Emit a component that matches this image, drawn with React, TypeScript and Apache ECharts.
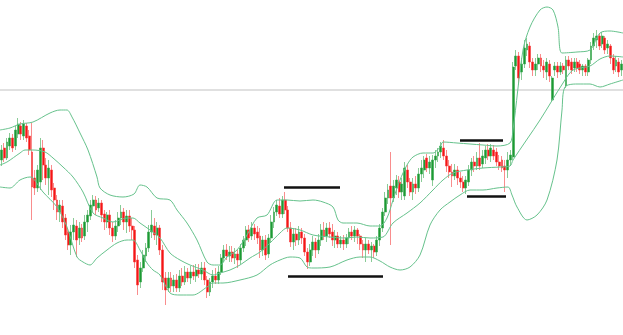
import React, { useEffect, useRef } from "react";
import * as echarts from "echarts";

// Values in screen-pixel rows (0 = top); converted to heights below.
const H = 335;
const W = 623;

// [open, close, top(high), bottom(low)] in pixel rows
const CANDLES: [number, number, number, number][] = [
  [160,150,145,166],[148,158,143,162],[158,142,138,160],[146,138,133,150],[138,148,134,152],
  [146,130,126,150],[134,124,118,138],[126,134,122,140],[136,124,120,140],[126,138,123,142],
  [136,150,130,155],[152,187,123,220],[178,188,170,195],[188,170,165,192],[182,148,138,190],
  [148,165,140,180],[165,178,158,185],[178,168,160,195],[170,190,165,197],[188,200,183,210],
  [200,212,195,220],[212,205,200,222],[206,222,200,228],[218,235,214,240],[232,245,228,250],
  [245,232,225,255],[232,225,218,240],[226,240,220,257],[238,228,222,245],[228,238,224,242],
  [236,222,215,240],[222,215,210,232],[216,205,200,220],[206,200,195,212],[200,210,196,215],
  [208,203,198,212],[203,215,200,222],[214,222,210,230],[222,215,212,228],[215,228,210,235],
  [228,236,222,242],[236,226,220,240],[226,218,212,232],[218,212,205,225],[212,222,208,230],
  [222,216,210,233],[216,226,210,232],[226,230,218,240],[230,262,226,268],[260,285,255,295],
  [282,268,262,288],[268,255,250,272],[256,248,243,262],[248,232,225,252],[232,225,210,238],
  [226,235,218,240],[235,228,222,245],[228,250,225,255],[250,282,245,290],[278,290,272,305],
  [288,278,272,292],[278,286,272,292],[286,280,275,292],[280,288,274,292],[288,276,270,292],
  [276,282,268,286],[282,272,266,285],[272,278,268,282],[278,272,266,284],[272,276,265,280],
  [276,270,264,282],[270,274,264,278],[274,268,262,280],[268,280,262,285],[280,292,276,298],
  [292,282,278,296],[282,276,270,288],[276,280,268,284],[280,272,266,284],[272,258,254,275],
  [258,250,245,262],[250,256,244,260],[256,252,246,262],[252,258,246,262],[258,254,248,264],
  [254,260,250,268],[260,248,244,264],[248,240,236,252],[240,230,226,246],[230,238,225,242],
  [236,228,222,240],[228,234,224,240],[232,238,226,244],[236,250,228,258],[250,240,236,256],
  [240,255,235,260],[254,238,234,258],[238,222,215,242],[222,212,207,228],[212,205,200,216],
  [206,214,198,218],[214,200,196,218],[200,210,192,214],[210,228,206,232],[228,242,222,247],
  [242,234,228,250],[234,240,228,246],[240,232,226,245],[232,238,228,244],[238,252,234,256],
  [252,262,248,269],[262,250,244,266],[250,242,236,256],[242,250,238,258],[250,240,234,254],
  [240,230,224,246],[230,236,222,240],[236,228,223,242],[228,234,222,238],[232,240,224,246],
  [240,236,230,248],[236,244,232,248],[244,240,236,248],[240,244,235,250],[244,238,234,248],
  [238,232,228,244],[232,236,226,240],[236,230,226,242],[230,236,228,244],[236,244,234,250],
  [244,250,240,258],[250,244,238,262],[244,250,240,254],[250,246,242,262],[246,252,244,258],
  [252,240,236,256],[240,228,224,246],[228,212,208,232],[212,198,192,216],[198,190,184,204],
  [186,198,152,245],[198,186,180,202],[188,180,175,195],[182,192,176,198],[192,184,178,200],
  [196,168,162,200],[170,182,165,188],[182,192,178,196],[192,184,178,200],[184,188,176,194],
  [188,174,168,192],[174,168,160,182],[170,160,156,178],[158,168,154,172],[168,162,156,174],
  [180,160,155,186],[160,156,150,168],[156,152,148,162],[152,146,142,158],[148,156,140,160],
  [156,166,150,172],[166,172,160,178],[172,176,164,187],[176,170,164,180],[170,178,166,185],
  [178,182,172,188],[182,188,176,192],[188,180,176,194],[182,170,165,186],[170,162,158,176],
  [162,166,156,172],[166,158,152,170],[158,166,143,170],[164,156,150,168],[158,150,146,164],
  [150,156,144,160],[156,148,144,162],[150,156,145,160],[152,162,148,166],[162,166,155,170],
  [160,168,156,172],[166,170,160,192],[170,160,152,178],[160,155,150,166],[157,67,62,160],
  [66,56,50,70],[56,78,52,85],[72,64,58,80],[64,48,40,68],[50,44,38,56],
  [46,62,42,68],[62,70,58,76],[70,64,58,76],[64,58,54,70],[58,66,54,72],
  [66,70,60,78],[72,62,58,80],[64,76,60,82],[100,78,76,102],[70,66,62,76],
  [66,72,62,78],[72,66,62,75],[66,70,63,74],[86,60,56,88],[60,66,56,70],
  [62,70,58,74],[68,62,58,72],[62,68,58,72],[64,70,60,74],[70,66,64,76],
  [66,72,64,76],[72,60,58,76],[60,46,42,64],[46,38,33,50],[40,36,30,48],
  [36,46,33,50],[44,36,32,48],[38,50,36,54],[48,44,40,54],[46,58,44,64],
  [58,70,54,74],[66,60,56,72],[62,72,58,77],[70,64,60,76],
];

// Bollinger bands: [x pixel, y pixel]
const UPPER: [number, number][] = [
  [0,130],[10,128],[20,124],[33,122],[50,113],[60,110],[67,110],[72,117],[80,133],[88,150],
  [97,177],[100,188],[110,195],[123,197],[134,194],[140,185],[147,187],[157,198],[170,200],
  [177,210],[187,223],[197,240],[207,262],[213,265],[220,265],[227,257],[237,250],[247,235],
  [257,218],[267,215],[277,200],[287,200],[300,201],[313,200],[323,202],[333,207],[338,220],
  [343,223],[357,223],[370,226],[380,226],[387,218],[393,200],[400,180],[407,165],[413,157],
  [423,153],[433,153],[440,147],[443,142],[457,143],[470,144],[483,145],[497,146],[510,143],
  [513,130],[523,50],[530,27],[540,10],[547,7],[553,10],[558,27],[562,53],[577,52],[590,50],
  [600,33],[610,31],[623,33],
];
const MIDDLE: [number, number][] = [
  [0,165],[7,162],[20,153],[25,150],[33,150],[45,152],[53,158],[63,167],[73,177],[83,192],
  [93,213],[103,218],[113,222],[127,218],[133,218],[140,223],[150,230],[160,238],[170,253],
  [180,260],[190,265],[203,270],[213,275],[220,273],[230,270],[240,265],[250,258],[260,252],
  [270,243],[280,233],[287,228],[300,230],[313,235],[330,237],[343,238],[357,237],[370,238],
  [383,237],[393,223],[407,213],[420,203],[433,190],[443,180],[453,173],[467,170],[483,168],
  [500,167],[510,166],[513,160],[540,120],[563,83],[573,70],[590,66],[600,59],[610,56],[623,57],
];
const LOWER: [number, number][] = [
  [0,187],[10,188],[20,180],[30,177],[33,178],[43,192],[57,207],[67,227],[77,257],[83,262],
  [90,265],[97,258],[107,250],[117,243],[127,240],[133,240],[140,250],[147,263],[153,270],
  [160,275],[170,293],[180,295],[193,295],[207,287],[213,283],[223,283],[240,280],[257,275],
  [270,265],[280,260],[290,257],[300,258],[307,267],[313,268],[330,267],[347,260],[360,257],
  [370,257],[380,261],[390,267],[400,270],[410,267],[420,255],[430,225],[440,210],[450,202],
  [460,195],[470,190],[483,190],[497,188],[508,187],[512,195],[517,207],[527,220],[537,215],
  [547,200],[557,160],[562,110],[565,87],[577,84],[590,84],[600,87],[610,84],[623,80],
];

// Horizontal reference level (pixel row) and black annotation segments [x1, x2, y]
const LEVEL = 90;
const SEGMENTS: [number, number, number][] = [
  [284, 340, 187],
  [288, 383, 276],
  [460, 503, 140],
  [467, 506, 196],
];

const toVal = (py: number) => H - py;

export default function App() {
  const ref = useRef<HTMLDivElement>(null);
  useEffect(() => {
    if (!ref.current) return;
    const chart = echarts.init(ref.current, undefined, { renderer: "svg" });
    const candleData = CANDLES.map(([o, c, t, b]) => [toVal(o), toVal(c), toVal(b), toVal(t)]);
    const band = (pts: [number, number][]) => pts.map(([x, y]) => [x, toVal(y)]);
    const bandStyle = { color: "#66c28c", width: 1 };
    chart.setOption({
      animation: false,
      backgroundColor: "#ffffff",
      grid: { left: 0, right: 0, top: 0, bottom: 0 },
      xAxis: [
        { type: "category", data: CANDLES.map((_, i) => String(i)), show: false, boundaryGap: true },
        { type: "value", min: 0, max: W, show: false },
      ],
      yAxis: { type: "value", min: 0, max: H, show: false },
      series: [
        {
          type: "line",
          xAxisIndex: 1,
          data: [[0, toVal(LEVEL)], [W, toVal(LEVEL)]],
          symbol: "none",
          lineStyle: { color: "#d6d6d6", width: 1.5 },
          z: 1,
          silent: true,
        },
        {
          type: "candlestick",
          xAxisIndex: 0,
          data: candleData,
          barWidth: "85%",
          barMinWidth: 2.2,
          barMaxWidth: 3,
          itemStyle: {
            color: "#1c9a33",
            color0: "#f51515",
            borderColor: "#3aa850",
            borderColor0: "#f54040",
            borderWidth: 0.6,
          },
          z: 2,
        },
        ...[UPPER, MIDDLE, LOWER].map((pts) => ({
          type: "line",
          xAxisIndex: 1,
          data: band(pts),
          symbol: "none",
          smooth: 0.3,
          lineStyle: bandStyle,
          z: 3,
          silent: true,
        })),
        {
          type: "line",
          xAxisIndex: 1,
          data: [],
          symbol: "none",
          z: 4,
          markLine: {
            symbol: "none",
            silent: true,
            label: { show: false },
            lineStyle: { color: "#111111", width: 2.5, type: "solid" },
            data: SEGMENTS.map(([x1, x2, y]) => [
              { coord: [x1, toVal(y)] },
              { coord: [x2, toVal(y)] },
            ]),
          },
        },
      ],
    });
    return () => chart.dispose();
  }, []);
  return (
    <div
      ref={ref}
      style={{ position: "fixed", left: 0, top: 0, width: W, height: H, background: "#fff" }}
    />
  );
}
